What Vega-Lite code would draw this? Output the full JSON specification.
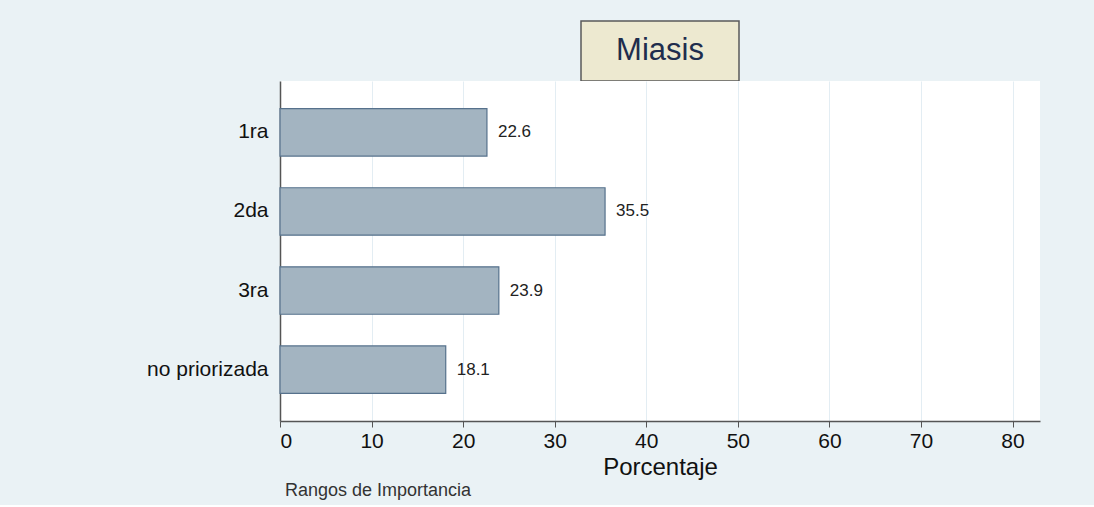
{
  "$schema": "https://vega.github.io/schema/vega-lite/v6.json",
  "padding": {"left": 146, "top": 20, "right": 54, "bottom": 5},
  "background": "#eaf2f5",
  "spacing": 0,
  "bounds": "flush",
  "center": true,
  "config": {"font": "Liberation Sans"},
  "vconcat": [
    {
      "width": 158,
      "height": 60,
      "view": {"fill": "#ede9d0", "stroke": "#5a5a5a", "strokeWidth": 1.5},
      "data": {"values": [{"t": "Miasis"}]},
      "mark": {"type": "text", "fontSize": 31, "color": "#1f2d4d", "font": "Liberation Sans"},
      "encoding": {"text": {"field": "t", "type": "nominal"}}
    },
    {
      "width": 760,
      "height": 340,
      "view": {"fill": "white", "stroke": null},
      "title": {"text": "Rangos de Importancia", "orient": "bottom", "anchor": "start", "frame": "group", "fontSize": 18, "fontWeight": "normal", "color": "#333", "offset": 3, "dx": 5},
      "data": {"values": [
        {"rango": "1ra", "pct": 22.6},
        {"rango": "2da", "pct": 35.5},
        {"rango": "3ra", "pct": 23.9},
        {"rango": "no priorizada", "pct": 18.1}
      ]},
      "encoding": {
        "y": {"field": "rango", "type": "nominal", "sort": null,
              "scale": {"paddingInner": 0.4, "paddingOuter": 0.35},
              "axis": {"title": null, "ticks": false, "domainColor": "#555", "domainWidth": 1.5, "labelFontSize": 21, "labelColor": "#111", "labelPadding": 12, "grid": false}},
        "x": {"field": "pct", "type": "quantitative",
              "scale": {"domain": [0, 83], "nice": false},
              "axis": {"values": [0, 10, 20, 30, 40, 50, 60, 70, 80], "grid": true, "gridColor": "#e3edf3", "domainColor": "#555", "domainWidth": 1.5, "tickColor": "#555", "tickSize": 6, "labelFontSize": 21, "labelColor": "#111", "labelPadding": 3, "title": "Porcentaje", "titleFontSize": 24, "titleFontWeight": "normal", "titleColor": "#111", "titlePadding": 4}}
      },
      "layer": [
        {"mark": {"type": "bar", "fill": "#a3b4c1", "stroke": "#56718c", "strokeWidth": 1.2}},
        {"mark": {"type": "text", "align": "left", "dx": 11, "fontSize": 17, "color": "#222"},
         "encoding": {"text": {"field": "pct", "type": "quantitative", "format": ".1f"}}}
      ]
    }
  ]
}
